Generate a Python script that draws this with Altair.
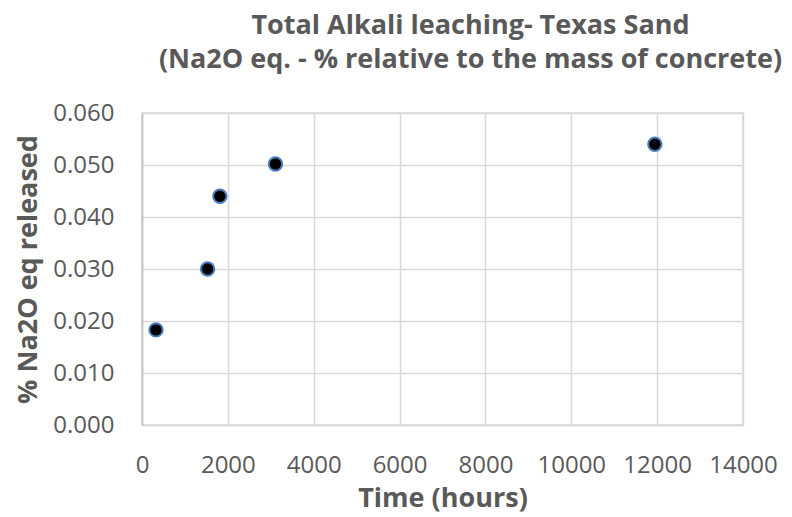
import altair as alt
import pandas as pd

time_hours = [326, 1528, 1814, 3109, 11946]
na2o_released = [0.0183, 0.0300, 0.0440, 0.0502, 0.0540]

df = pd.DataFrame({"time": time_hours, "na2o": na2o_released})

FONT = "Open Sans"
GRAY = "#595959"

chart = alt.Chart(df).mark_point(
    filled=True, shape="circle", size=180, fill="black", stroke="#4a7ebb", strokeWidth=2, opacity=1
).encode(
    x=alt.X("time:Q", scale=alt.Scale(domain=[0, 14000], nice=False),
            axis=alt.Axis(title="Time (hours)", values=list(range(0, 14001, 2000)), format="d",
                          labelOverlap=False, labelFlush=False)),
    y=alt.Y("na2o:Q", scale=alt.Scale(domain=[0, 0.06], nice=False),
            axis=alt.Axis(title="% Na2O eq released", values=[0, 0.01, 0.02, 0.03, 0.04, 0.05, 0.06], format=".3f",
                          labelOverlap=False, labelFlush=False)),
).properties(
    width=601,
    height=312,
    autosize=alt.AutoSizeParams(type="none"),
    padding={"left": 134, "top": 105, "right": 40, "bottom": 90},
    title=alt.TitleParams(
        text=["Total Alkali leaching- Texas Sand", "(Na2O eq. - % relative to the mass of concrete)"],
        font=FONT, fontSize=27, fontWeight="bold", color=GRAY, anchor="middle",
        dx=28, offset=27, lineHeight=34,
    ),
).configure_view(
    stroke="#d9d9d9", strokeWidth=1.5
).configure_axis(
    grid=True, gridColor="#d9d9d9", gridWidth=1.5,
    domainColor="#d9d9d9", domainWidth=1.5, ticks=False,
    labelFont=FONT, labelFontSize=24, labelColor=GRAY,
    titleFont=FONT, titleFontSize=27, titleFontWeight="bold", titleColor=GRAY,
).configure_axisY(
    labelPadding=28, titlePadding=10, domainColor="#bfbfbf",
).configure_axisX(
    labelPadding=28, titlePadding=8,
)

chart.save("out.html", embed_options={"renderer": "svg", "actions": False})
